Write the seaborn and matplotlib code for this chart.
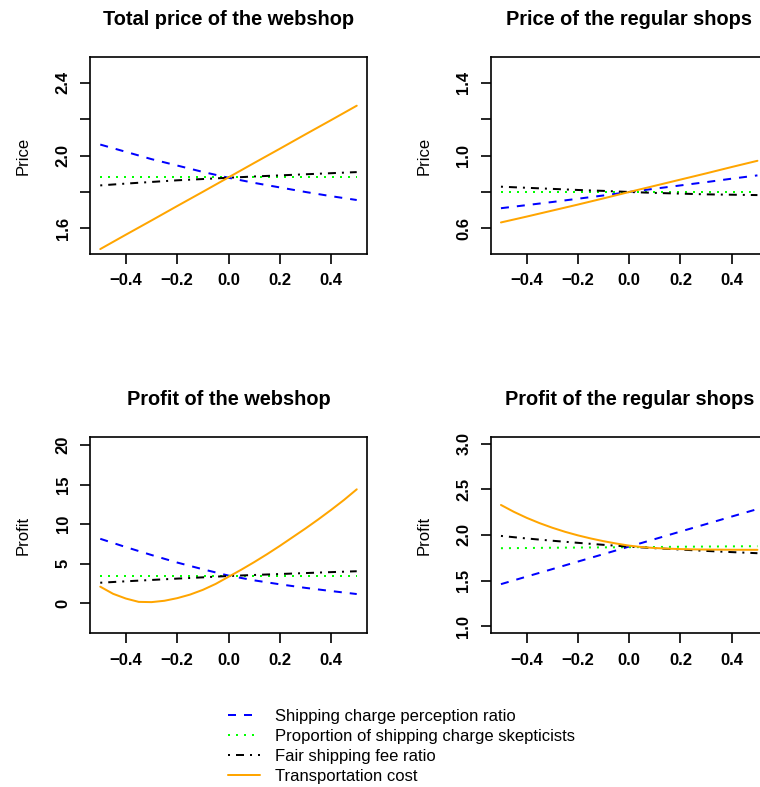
import numpy as np
import pandas as pd
import matplotlib
matplotlib.use("Agg")
import matplotlib.pyplot as plt
import seaborn as sns

# sensitivity of prices / profits to each model parameter
# ---------------------------------
x_vals = [-0.5, -0.4, -0.3, -0.2, -0.1, 0.0, 0.1, 0.2, 0.3, 0.4, 0.5]
x_fine = [-0.5, -0.45, -0.4, -0.35, -0.3, -0.25, -0.2, -0.15, -0.1, -0.05, 0.0,
          0.05, 0.1, 0.15, 0.2, 0.25, 0.3, 0.35, 0.4, 0.45, 0.5]

series_names = ["Shipping charge perception ratio",
                "Proportion of shipping charge skepticists",
                "Fair shipping fee ratio",
                "Transportation cost"]

# Total price of the webshop
tp_perception = [2.06, 2.02, 1.98, 1.945, 1.91, 1.878, 1.85, 1.825, 1.80, 1.777, 1.756]
tp_skeptic = [1.88, 1.88, 1.88, 1.88, 1.88, 1.88, 1.88, 1.88, 1.88, 1.88, 1.88]
tp_fair = [1.836, 1.846, 1.855, 1.864, 1.871, 1.878, 1.885, 1.891, 1.897, 1.903, 1.909]
tp_transport = [1.487, 1.566, 1.644, 1.723, 1.801, 1.880, 1.959, 2.037, 2.116, 2.194, 2.273]

# Price of the regular shops
rp_perception = [0.711, 0.728, 0.745, 0.763, 0.781, 0.80, 0.818, 0.836, 0.854, 0.873, 0.891]
rp_skeptic = [0.80, 0.80, 0.80, 0.80, 0.80, 0.80, 0.80, 0.80, 0.80, 0.80, 0.80]
rp_fair = [0.829, 0.823, 0.817, 0.811, 0.806, 0.800, 0.795, 0.791, 0.787, 0.785, 0.783]
rp_transport = [0.633, 0.665, 0.698, 0.731, 0.765, 0.80, 0.834, 0.868, 0.902, 0.937, 0.971]

# Profit of the webshop
wp_perception = [8.15, 7.1, 6.1, 5.15, 4.3, 3.5, 2.9, 2.4, 1.95, 1.55, 1.17]
wp_skeptic = [3.45, 3.45, 3.45, 3.45, 3.45, 3.45, 3.45, 3.45, 3.45, 3.45, 3.45]
wp_fair = [2.6, 2.78, 2.95, 3.12, 3.28, 3.45, 3.58, 3.7, 3.82, 3.94, 4.05]
wp_transport = [2.1, 1.2, 0.6, 0.18, 0.15, 0.32, 0.65, 1.1, 1.7, 2.45, 3.35,
                4.25, 5.2, 6.2, 7.25, 8.35, 9.45, 10.6, 11.8, 13.05, 14.4]

# Profit of the regular shops
sp_perception = [1.46, 1.543, 1.625, 1.708, 1.79, 1.873, 1.955, 2.038, 2.12, 2.203, 2.285]
sp_skeptic = [1.855, 1.857, 1.86, 1.862, 1.864, 1.866, 1.868, 1.871, 1.873, 1.875, 1.877]
sp_fair = [1.99, 1.962, 1.937, 1.914, 1.892, 1.872, 1.855, 1.84, 1.825, 1.812, 1.80]
sp_transport = [2.33, 2.255, 2.189, 2.131, 2.08, 2.035, 1.996, 1.962, 1.932, 1.906, 1.883,
                1.867, 1.857, 1.85, 1.845, 1.842, 1.84, 1.839, 1.838, 1.8375, 1.837]

titles = ["Total price of the webshop", "Price of the regular shops",
          "Profit of the webshop", "Profit of the regular shops"]
ylabels = ["Price", "Price", "Profit", "Profit"]
x_ticks = [-0.4, -0.2, 0.0, 0.2, 0.4]
x_ticklabels = ["\u22120.4", "\u22120.2", "0.0", "0.2", "0.4"]
y_ticks = [[1.6, 1.8, 2.0, 2.2, 2.4], [0.6, 0.8, 1.0, 1.2, 1.4],
           [0, 5, 10, 15, 20], [1.0, 1.5, 2.0, 2.5, 3.0]]
y_ticklabels = [["1.6", "", "2.0", "", "2.4"], ["0.6", "", "1.0", "", "1.4"],
                ["0", "5", "10", "15", "20"], ["1.0", "1.5", "2.0", "2.5", "3.0"]]
y_lims = [(1.46, 2.54), (0.46, 1.54), (-3.79, 21.05), (0.92, 3.08)]

panel_data = [
    [(x_vals, tp_perception), (x_vals, tp_skeptic), (x_vals, tp_fair), (x_vals, tp_transport)],
    [(x_vals, rp_perception), (x_vals, rp_skeptic), (x_vals, rp_fair), (x_vals, rp_transport)],
    [(x_vals, wp_perception), (x_vals, wp_skeptic), (x_vals, wp_fair), (x_fine, wp_transport)],
    [(x_vals, sp_perception), (x_vals, sp_skeptic), (x_vals, sp_fair), (x_fine, sp_transport)],
]

palette = dict(zip(series_names, ["#0000FF", "#00FF00", "#000000", "#FFA500"]))
dashes = dict(zip(series_names, [(4, 4), (1, 3), (1, 3, 4, 3), ""]))

sns.set_style("ticks")
plt.rcParams["font.family"] = ["Liberation Sans", "DejaVu Sans"]
plt.rcParams["axes.linewidth"] = 1.2
plt.rcParams["text.color"] = "black"
plt.rcParams["axes.labelcolor"] = "black"
plt.rcParams["xtick.color"] = "black"
plt.rcParams["ytick.color"] = "black"
plt.rcParams["axes.edgecolor"] = "black"

fig = plt.figure(figsize=(7.6, 7.87), dpi=100)
W, H = 760, 787
# axes boxes in pixels: left, top, width, height
boxes = [(90, 57, 277, 197), (490.7, 57, 277, 197),
         (90, 436.7, 277, 196.6), (490.7, 436.7, 277, 196.6)]

handles, labels = None, None
for i, (bx, by, bw, bh) in enumerate(boxes):
    ax = fig.add_axes([bx / W, 1 - (by + bh) / H, bw / W, bh / H])
    frames = []
    for name, (xs, ys) in zip(series_names, panel_data[i]):
        frames.append(pd.DataFrame({"x": xs, "y": ys, "series": name}))
    df = pd.concat(frames, ignore_index=True)
    sns.lineplot(data=df, x="x", y="y", hue="series", style="series",
                 palette=palette, dashes=dashes, hue_order=series_names,
                 style_order=series_names, lw=1.44, ax=ax, legend=True,
                 estimator=None, sort=True)
    if handles is None:
        handles, labels = ax.get_legend_handles_labels()
    ax.get_legend().remove()

    ax.set_xlim(-0.54, 0.54)
    ax.set_ylim(*y_lims[i])
    ax.set_xticks(x_ticks)
    ax.set_xticklabels(x_ticklabels, fontsize=12, fontweight="bold")
    ax.set_yticks(y_ticks[i])
    ax.set_yticklabels(y_ticklabels[i], fontsize=12, fontweight="bold",
                       rotation=90, va="center")
    ax.tick_params(length=7, width=1.2, pad=7, color="black", labelcolor="black")
    for sp in ax.spines.values():
        sp.set_visible(True)
        sp.set_color("black")
    ax.set_xlabel("")
    ax.set_ylabel(ylabels[i], fontsize=12, color="black")
    ax.yaxis.set_label_coords(-0.215, 0.5)
    ax.set_title(titles[i], fontsize=14.4, fontweight="bold", pad=23, color="black")

fig.legend(handles, labels, loc="upper left", bbox_to_anchor=(0.3, 0.0991),
           frameon=False, fontsize=12, handlelength=1.9, handletextpad=0.9,
           labelspacing=0.29, borderpad=0, borderaxespad=0)

fig.savefig("out.png", dpi=100)
